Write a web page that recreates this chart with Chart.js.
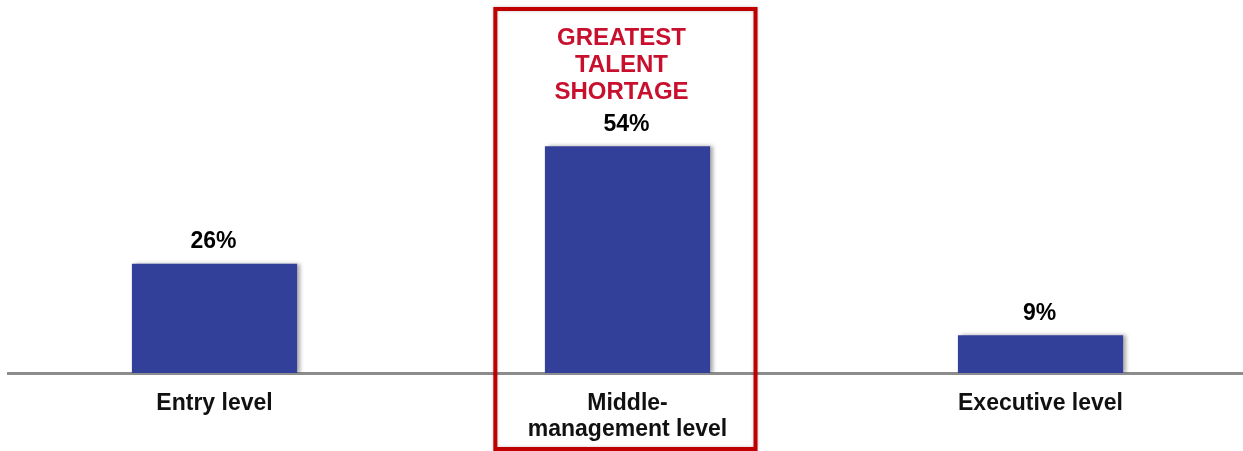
<!DOCTYPE html>
<html>
<head>
<meta charset="utf-8">
<script src="https://cdn.jsdelivr.net/npm/chart.js@4.4.1/dist/chart.umd.min.js"></script>
<style>
  html, body { margin: 0; padding: 0; background: #fff; overflow: hidden; }
  #wrap { width: 1247px; height: 451px; position: relative; }
</style>
</head>
<body>
<div id="wrap"><canvas id="shortage"></canvas></div>
<script>
// data
const categories = ['Entry level', ['Middle-', 'management level'], 'Executive level'];
const shortagePct = [26, 54, 9];
const valueLabels = ['26%', '54%', '9%'];
const highlightIndex = 1;
const highlightLines = ['GREATEST', 'TALENT', 'SHORTAGE'];

const FONT = '"Liberation Sans", Arial, sans-serif';

// soft shadow on the bars
const barShadow = {
    id: 'barShadow',
    beforeDatasetsDraw(chart) {
        const c = chart.ctx;
        c.save();
        c.shadowColor = 'rgba(0,0,0,0.35)';
        c.shadowBlur = 4;
        c.shadowOffsetX = 3;
        c.shadowOffsetY = 0;
    },
    afterDatasetsDraw(chart) {
        chart.ctx.restore();
    }
};

// value labels, red callout text and the box round the middle column
const annotations = {
    id: 'annotations',
    afterDraw(chart) {
        const c = chart.ctx;
        const meta = chart.getDatasetMeta(0);
        c.save();
        c.textAlign = 'center';
        c.textBaseline = 'middle';
        c.font = 'bold 23px ' + FONT;
        c.fillStyle = '#000';
        meta.data.forEach((bar, i) => {
            c.fillText(valueLabels[i], bar.x - 1, bar.y - 22);
        });

        const hb = meta.data[highlightIndex];
        c.fillStyle = '#c8102e';
        c.font = 'bold 24px ' + FONT;
        highlightLines.forEach((t, i) => {
            c.fillText(t, hb.x - 6, hb.y - 108 + i * 27);
        });

        // box is a little left of the bar centre in the original
        const cw = chart.scales.x.width / categories.length;
        c.strokeStyle = '#c00000';
        c.lineWidth = 4;
        c.shadowColor = 'rgba(0,0,0,0.25)';
        c.shadowBlur = 3;
        c.strokeRect(hb.x - cw * 0.32, 9, cw * 0.63, 440);
        c.restore();
    }
};

new Chart(document.getElementById('shortage'), {
    type: 'bar',
    data: {
        labels: categories,
        datasets: [{
            data: shortagePct,
            backgroundColor: '#334099',
            borderWidth: 0,
            barPercentage: 0.4,
            categoryPercentage: 1
        }]
    },
    options: {
        responsive: true,
        maintainAspectRatio: false,
        animation: false,
        layout: { padding: { left: 8, right: 0, top: 0, bottom: 0 } },
        plugins: {
            legend: { display: false },
            tooltip: { enabled: false }
        },
        scales: {
            x: {
                grid: { display: false, drawTicks: false },
                border: { display: true, color: '#8c8c8c', width: 3 },
                ticks: {
                    color: '#111',
                    padding: 17,
                    font: { family: FONT, size: 23, weight: 'bold', lineHeight: 1.15 }
                },
                afterFit(s) { s.height = 78; }
            },
            y: {
                display: false,
                min: 0,
                max: 88.8
            }
        }
    },
    plugins: [barShadow, annotations]
});
</script>
</body>
</html>
